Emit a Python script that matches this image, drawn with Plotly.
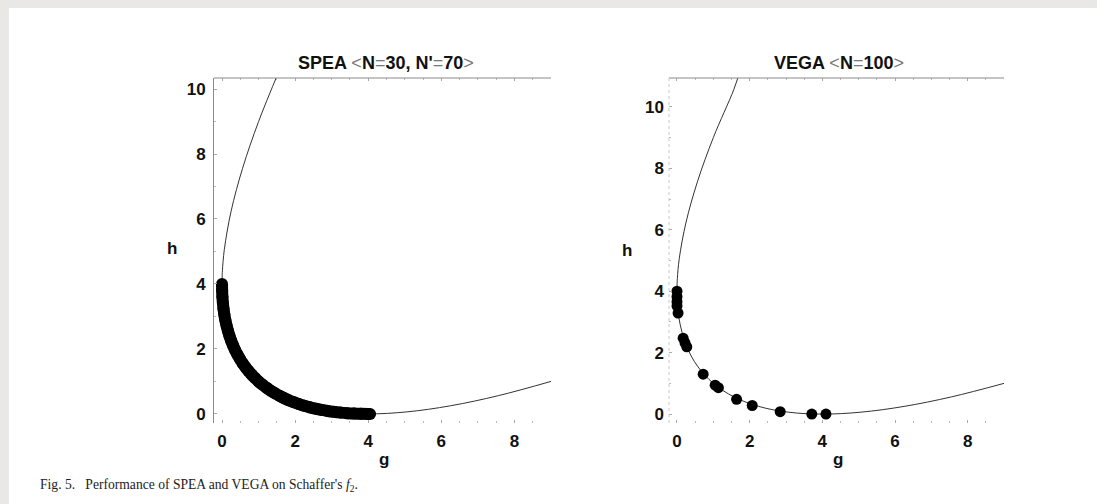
import plotly.graph_objects as go

# Reference curve (g, h) of Schaffer's f2
curve_g = [1.5625, 1.0, 0.5625, 0.25, 0.0625, 0.01, 0.0025, 0.0, 0.01, 0.0625, 0.25, 0.5625,
           1.0, 1.5625, 2.25, 3.0625, 4.0, 5.0625, 6.25, 7.5625, 9.0]
curve_h = [10.5625, 9.0, 7.5625, 6.25, 5.0625, 4.41, 4.2025, 4.0, 3.61, 3.0625, 2.25, 1.5625,
           1.0, 0.5625, 0.25, 0.0625, 0.0, 0.0625, 0.25, 0.5625, 1.0]
curve_g2 = [1.7161] + curve_g
curve_h2 = [11.1] + curve_h

# SPEA non-dominated points (dense band along the front)
spea_g = [0.0, 0.0025, 0.01, 0.0225, 0.04, 0.0625, 0.09, 0.1225, 0.16, 0.2025, 0.25, 0.3025,
          0.36, 0.4225, 0.49, 0.5625, 0.64, 0.7225, 0.81, 0.9025, 1.0, 1.1025, 1.21, 1.3225,
          1.44, 1.5625, 1.69, 1.8225, 1.96, 2.1025, 2.25, 2.4025, 2.56, 2.7225, 2.89, 3.0625,
          3.24, 3.4225, 3.61, 3.8025, 4.0, 4.05]
spea_h = [4.0, 3.8025, 3.61, 3.4225, 3.24, 3.0625, 2.89, 2.7225, 2.56, 2.4025, 2.25, 2.1025,
          1.96, 1.8225, 1.69, 1.5625, 1.44, 1.3225, 1.21, 1.1025, 1.0, 0.9025, 0.81, 0.7225,
          0.64, 0.5625, 0.49, 0.4225, 0.36, 0.3025, 0.25, 0.2025, 0.16, 0.1225, 0.09, 0.0625,
          0.04, 0.0225, 0.01, 0.0025, 0.0, 0.0]

# VEGA points
vega_g = [0.0, 0.0, 0.0, 0.0, 0.03, 0.17, 0.22, 0.27, 0.72, 1.05, 1.14, 1.64, 2.07, 2.84, 3.71, 4.10]
vega_h = [4.0, 3.82, 3.66, 3.52, 3.29, 2.47, 2.32, 2.19, 1.30, 0.94, 0.86, 0.48, 0.28, 0.08, 0.0, 0.0]

x_ticks = [0, 2, 4, 6, 8]
y_ticks = [0, 2, 4, 6, 8, 10]

W, H = 1097, 504
BG = "#e9e8e6"
AX = "#8a8a8a"
FONT = "Liberation Sans"
FS = 17

fig = go.Figure()
fig.add_trace(go.Scatter(x=curve_g, y=curve_h, mode="lines", line=dict(color="#333", width=1, shape="spline"),
                         xaxis="x", yaxis="y", showlegend=False, hoverinfo="skip"))
fig.add_trace(go.Scatter(x=spea_g, y=spea_h, mode="lines+markers", marker=dict(color="black", size=12),
                         line=dict(color="black", width=12, shape="spline"),
                         xaxis="x", yaxis="y", showlegend=False))
fig.add_trace(go.Scatter(x=curve_g2, y=curve_h2, mode="lines", line=dict(color="#333", width=1, shape="spline"),
                         xaxis="x2", yaxis="y2", showlegend=False, hoverinfo="skip"))
fig.add_trace(go.Scatter(x=vega_g, y=vega_h, mode="markers", marker=dict(color="black", size=11),
                         xaxis="x2", yaxis="y2", showlegend=False))

def xax(domain, anchor):
    return dict(domain=domain, anchor=anchor, range=[-0.22, 9.0], tickvals=x_ticks,
                showgrid=False, zeroline=False, showline=False,
                ticks="inside", ticklen=3, tickcolor="#aaa", mirror="ticks",
                ticklabelstandoff=6,
                minor=dict(dtick=0.5, ticks="inside", ticklen=2, tickcolor="#bbb"),
                tickfont=dict(family=FONT, size=FS, color="#111", weight="bold"))

def yax(domain, anchor, rng, color):
    return dict(domain=domain, anchor=anchor, range=rng, tickvals=y_ticks,
                showgrid=False, zeroline=False, showline=True, linecolor=color,
                linewidth=1, ticks="inside", ticklen=3, tickcolor="#aaa",
                ticklabelstandoff=4,
                minor=dict(dtick=1, ticks="inside", ticklen=2, tickcolor="#bbb"),
                tickfont=dict(family=FONT, size=FS, color="#111", weight="bold"))

ybot = 1 - 423 / H
ytop = 1 - 78 / H
fig.update_layout(
    width=W, height=H, margin=dict(l=0, r=0, t=0, b=0),
    paper_bgcolor="white", plot_bgcolor="white",
    xaxis=xax([214 / W, 551 / W], "y"),
    yaxis=yax([ybot, ytop], "x", [-0.28, 10.34], AX),
    xaxis2=xax([669 / W, 1004 / W], "y2"),
    yaxis2=yax([ybot, ytop], "x2", [-0.29, 10.94], "#d0d0d0"),
)
fig.update_layout(yaxis2=dict(showline=False))

shapes = [
    dict(type="rect", xref="paper", yref="paper", x0=0, x1=1, y0=1 - 8 / H, y1=1, fillcolor=BG, line_width=0, layer="above"),
    dict(type="rect", xref="paper", yref="paper", x0=0, x1=9 / W, y0=0, y1=1, fillcolor=BG, line_width=0, layer="above"),
    dict(type="line", xref="x domain", yref="y domain", x0=0, x1=1, y0=1, y1=1, line=dict(color=AX, width=1)),
    dict(type="line", xref="x2 domain", yref="y2 domain", x0=0, x1=1, y0=1, y1=1, line=dict(color=AX, width=1)),
    dict(type="line", xref="x2 domain", yref="y2 domain", x0=0, x1=0, y0=0, y1=1, line=dict(color="#c8c8c8", width=1, dash="dot")),
]
fig.update_layout(shapes=shapes)

light = "<span style='color:#777;font-weight:normal'>"
def lab(text, x, y, size=FS, family=FONT, xanchor="center", color="#111"):
    return dict(text=text, x=x / W, y=1 - y / H, xref="paper", yref="paper", showarrow=False,
                xanchor=xanchor, yanchor="middle", font=dict(family=family, size=size, color=color))

annotations = [
    lab("<b>SPEA " + light + "&lt;</span>N" + light + "=</span>30, N'" + light + "=</span>70" + light + "&gt;</span></b>", 386, 63, size=18),
    lab("<b>VEGA " + light + "&lt;</span>N" + light + "=</span>100" + light + "&gt;</span></b>", 839, 63, size=18),
    lab("<b>h</b>", 172, 248),
    lab("<b>h</b>", 627, 250),
    lab("<b>g</b>", 384, 459),
    lab("<b>g</b>", 838, 459),
    lab("Fig. 5.&nbsp;&nbsp;&nbsp;Performance of SPEA and VEGA on Schaffer's <i>f</i><sub>2</sub>.",
        38, 485, size=13.6, family="Liberation Serif", xanchor="left", color="#222"),
]
fig.update_layout(annotations=annotations)

fig.write_html("out.html", config={"displayModeBar": False},
               post_script="document.body.style.margin='0';document.body.style.overflow='hidden';")
